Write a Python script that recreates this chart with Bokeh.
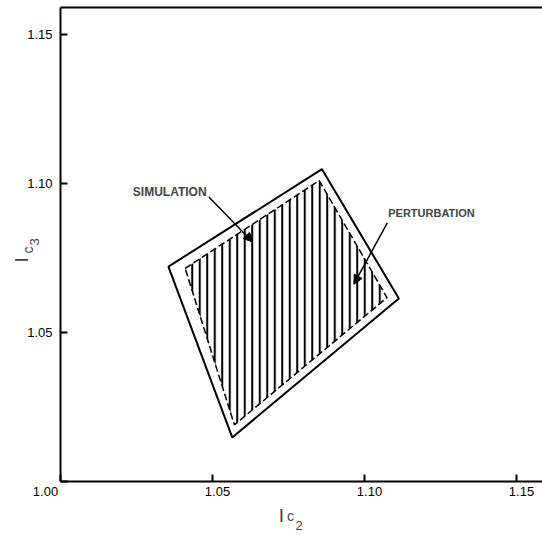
import math
from bokeh.plotting import figure
from bokeh.models import Range1d, Label, Arrow, NormalHead, FixedTicker, LinearAxis
from bokeh.embed import file_html
from bokeh.resources import INLINE

# data
outer_x = [1.0355, 1.0860, 1.1113, 1.0565]
outer_y = [1.0721, 1.1048, 1.0614, 1.0148]
inner_x = [1.0410, 1.0851, 1.1074, 1.0572]
inner_y = [1.0715, 1.1010, 1.0617, 1.0190]
x_ticks = [1.00, 1.05, 1.10, 1.15]
y_ticks = [1.00, 1.05, 1.10, 1.15]
x_tick_texts = ["1.00", "1.05", "1.10", "1.15"]
y_tick_labels = {1.05: "1.05", 1.10: "1.10", 1.15: "1.15", 1.00: ""}
AXIS_ORIGIN = 1.00
X_START, X_END = 0.980263, 1.158553
Y_START, Y_END = 0.981879, 1.161409
Y_TOP = 1.15906
sim_label = "SIMULATION"
pert_label = "PERTURBATION"
sim_arrow = (1.0488, 1.0955, 1.0632, 1.0804)
pert_arrow = (1.1075, 1.0868, 1.0965, 1.0662)

FONT = "Liberation Sans"
PX_X = 0.05 / 152.0          # data units per pixel along x
x_label_shift_px = [-15, 5, 5, 5]   # style: offset of printed labels from ticks

p = figure(width=542, height=535, output_backend="svg", toolbar_location=None,
           x_range=Range1d(X_START, X_END), y_range=Range1d(Y_START, Y_END),
           x_axis_location=None, y_axis_location=None,
           min_border_left=0, min_border_right=0, min_border_top=0, min_border_bottom=0)
p.outline_line_color = None
p.background_fill_color = "white"
for g in p.grid:
    g.visible = False


def style_axis(ax):
    ax.axis_line_width = 2
    ax.axis_line_color = "black"
    ax.major_tick_in = 7
    ax.major_tick_out = 0
    ax.major_tick_line_width = 2
    ax.minor_tick_line_color = None
    ax.major_label_text_font = FONT
    ax.major_label_text_font_size = "13px"
    ax.major_label_text_color = "black"


# x axis: line and tick marks
xaxis = LinearAxis(fixed_location=AXIS_ORIGIN, bounds=(AXIS_ORIGIN, X_END),
                   ticker=FixedTicker(ticks=x_ticks),
                   major_label_overrides={t: "" for t in x_ticks})
style_axis(xaxis)
p.add_layout(xaxis, "below")

# x axis: printed labels (slightly offset from the ticks, as in the original)
label_pos = [t + s * PX_X for t, s in zip(x_ticks, x_label_shift_px)]
xlabels = LinearAxis(fixed_location=AXIS_ORIGIN, bounds=(X_START, X_END),
                     ticker=FixedTicker(ticks=label_pos),
                     major_label_overrides=dict(zip(label_pos, x_tick_texts)),
                     major_label_standoff=6)
style_axis(xlabels)
xlabels.axis_line_color = None
xlabels.major_tick_line_color = None
p.add_layout(xlabels, "below")

yaxis = LinearAxis(fixed_location=AXIS_ORIGIN, bounds=(AXIS_ORIGIN, Y_TOP),
                   ticker=FixedTicker(ticks=y_ticks), major_label_overrides=y_tick_labels,
                   major_label_standoff=8)
style_axis(yaxis)
p.add_layout(yaxis, "left")

top_axis = LinearAxis(fixed_location=Y_TOP, bounds=(AXIS_ORIGIN, X_END),
                      ticker=FixedTicker(ticks=[]))
style_axis(top_axis)
p.add_layout(top_axis, "above")

# hatched inner region
p.patch(inner_x, inner_y, fill_color=None, line_color="black", line_width=1.5,
        line_dash="7 3", hatch_pattern="|", hatch_scale=7.5, hatch_weight=2,
        hatch_color="black")
# outer boundary
p.patch(outer_x, outer_y, fill_color=None, line_color="black", line_width=2)

# annotations
p.add_layout(Label(x=1.0238, y=1.0972, text=sim_label, text_font=FONT, text_font_size="12px",
                   text_font_style="bold", text_baseline="middle", text_align="left"))
p.add_layout(Label(x=1.1078, y=1.0902, text=pert_label, text_font=FONT, text_font_size="11px",
                   text_font_style="bold", text_baseline="middle", text_align="left"))
p.add_layout(Arrow(x_start=sim_arrow[0], y_start=sim_arrow[1], x_end=sim_arrow[2], y_end=sim_arrow[3],
                   line_width=1.5, end=NormalHead(size=9, fill_color="black", line_color="black")))
p.add_layout(Arrow(x_start=pert_arrow[0], y_start=pert_arrow[1], x_end=pert_arrow[2], y_end=pert_arrow[3],
                   line_width=1.5, end=NormalHead(size=9, fill_color="black", line_color="black")))

# axis titles (I with subscripts)
p.add_layout(Label(x=1.0718, y=0.98859, text="I", text_font=FONT, text_font_size="19px",
                   text_baseline="alphabetic", text_align="left"))
p.add_layout(Label(x=1.0745, y=0.98826, text="c", text_font=FONT, text_font_size="14px",
                   text_baseline="alphabetic", text_align="left"))
p.add_layout(Label(x=1.0773, y=0.98523, text="2", text_font=FONT, text_font_size="13px",
                   text_baseline="alphabetic", text_align="left"))

p.add_layout(Label(x=0.98718, y=1.07349, text="I", text_font=FONT, text_font_size="19px",
                   text_baseline="alphabetic", text_align="left", angle=math.pi / 2))
p.add_layout(Label(x=0.98916, y=1.07652, text="c", text_font=FONT, text_font_size="14px",
                   text_baseline="alphabetic", text_align="left", angle=math.pi / 2))
p.add_layout(Label(x=0.99146, y=1.07920, text="3", text_font=FONT, text_font_size="13px",
                   text_baseline="alphabetic", text_align="left", angle=math.pi / 2))

open("out.html", "w").write(file_html(p, INLINE))
